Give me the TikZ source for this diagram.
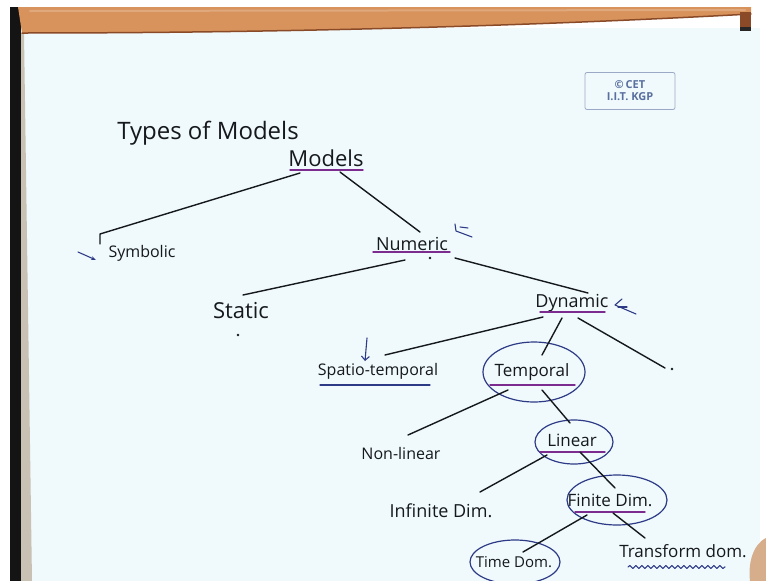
\documentclass[tikz,border=0pt]{standalone}
\usepackage{fontspec}
\setmainfont{Open Sans}
\usetikzlibrary{decorations.pathmorphing,arrows.meta}
\definecolor{board}{HTML}{F0FAFC}
\definecolor{wood}{HTML}{D8935C}
\definecolor{wooddark}{HTML}{8A4A28}
\definecolor{frame}{HTML}{C9C2B4}
\definecolor{ink}{HTML}{15181C}
\definecolor{mark}{HTML}{7B2C8E}
\definecolor{pen}{HTML}{2D3A86}
\definecolor{stamp}{HTML}{5A6FA0}
\definecolor{skin}{HTML}{D6AE8C}
\begin{document}
\begin{tikzpicture}[x=1pt,y=-1pt,line cap=round,line join=round,
  lbl/.style={inner sep=0pt,text=ink,font=\fontsize{#1}{#1}\selectfont},
  conn/.style={draw=ink,line width=1.4pt},
  uline/.style={draw=mark,line width=1.4pt},
  ring/.style={draw=pen,line width=1.2pt},
  note/.style={draw=pen,line width=1.1pt}]
\useasboundingbox (0,0) rectangle (766,581);

% board, frame and ledge
\fill[white] (0,0) rectangle (766,581);
\fill[board] (21,28) rectangle (760,581);
\fill[black!92] (10,7) rectangle (21,581);
\fill[frame] (21,33) -- (24,33) -- (32,581) -- (21,581) -- cycle;
\fill[wood] (18,7) -- (751,7) -- (751,14) .. controls (550,25) and (300,33) .. (22,33) -- cycle;
\draw[wooddark,line width=1.5pt] (22,33) .. controls (300,33) and (550,25) .. (751,14);
\draw[wood!80!white,line width=2pt] (30,11) -- (745,10);
\fill[wooddark] (740,12) rectangle (751,30);
\fill[black!85] (740,27) rectangle (751,31);
\fill[skin] (766,538) .. controls (752,545) and (748,565) .. (750,581) -- (766,581) -- cycle;

% stamp
\node[draw=stamp!60,rounded corners=2pt,line width=0.8pt,minimum width=90pt,minimum height=37pt,
      align=center,text=stamp,font=\fontsize{11}{12}\selectfont\bfseries] (stampbox) at (630,91)
      {\textcopyright\,CET\\I.I.T. KGP};

% labels
\node[lbl=24] (title) at (208,133) {Types of Models};
\node[lbl=22] (models) at (326,158) {Models};
\node[lbl=16] (symbolic) at (142,253) {Symbolic};
\node[lbl=18] (numeric) at (412,244) {Numeric};
\node[lbl=22] (static) at (241,311) {Static};
\node[lbl=18] (dynamic) at (572,303) {Dynamic};
\node[lbl=16] (spatio) at (378,371) {Spatio-temporal};
\node[lbl=17] (temporal) at (532,372) {Temporal};
\node[lbl=16] (nonlinear) at (401,453) {Non-linear};
\node[lbl=17] (linear) at (572,440) {Linear};
\node[lbl=18] (infinite) at (441,511) {Infinite Dim.};
\node[lbl=17] (finite) at (610,500) {Finite Dim.};
\node[lbl=15] (timedom) at (514,562) {Time Dom.};
\node[lbl=17] (transform) at (683,551) {Transform dom.};
\coordinate (dynright) at (665,368);

% circled classes
\draw[ring] ([shift={(2,0)}]temporal.center) ellipse [x radius=51,y radius=30];
\draw[ring] ([shift={(2,2)}]linear.center) ellipse [x radius=39,y radius=22];
\draw[ring] ([shift={(7,0)}]finite.center) ellipse [x radius=50,y radius=25];
\draw[ring] ([shift={(1,0)}]timedom.center) ellipse [x radius=45,y radius=22];

% underlines
\draw[uline] ([shift={(-36,12)}]models.center) -- ([shift={(37,12)}]models.center);
\draw[uline] ([shift={(-39,8)}]numeric.center) -- ([shift={(38,8)}]numeric.center);
\draw[uline] ([shift={(-32,9)}]dynamic.center) -- ([shift={(33,9)}]dynamic.center);
\draw[uline] ([shift={(-42,13)}]temporal.center) -- ([shift={(43,13)}]temporal.center);
\draw[uline] ([shift={(-32,12)}]linear.center) -- ([shift={(33,12)}]linear.center);
\draw[uline] ([shift={(-35,12)}]finite.center) -- ([shift={(35,12)}]finite.center);
\draw[note] ([shift={(-58,14)}]spatio.center) -- ([shift={(52,14)}]spatio.center);
\draw[note,decorate,decoration={snake,segment length=6pt,amplitude=1.5pt}]
  ([shift={(-55,16)}]transform.center) -- ([shift={(42,16)}]transform.center);

% tree branches
\draw[conn] ([shift={(-26,15)}]models.center) -- ([shift={(-42,-19)}]symbolic.center) -- ([shift={(-42,-9)}]symbolic.center);
\draw[conn] ([shift={(14,14)}]models.center) -- ([shift={(8,-12)}]numeric.center);
\draw[conn] ([shift={(-7,16)}]numeric.center) -- ([shift={(2,-16)}]static.center);
\draw[conn] ([shift={(43,14)}]numeric.center) -- ([shift={(16,-10)}]dynamic.center);
\draw[conn] ([shift={(-29,14)}]dynamic.center) -- ([shift={(7,-16)}]spatio.center);
\draw[conn] ([shift={(-10,15)}]dynamic.center) -- ([shift={(10,-17)}]temporal.center);
\draw[conn] ([shift={(6,15)}]dynamic.center) -- (dynright);
\draw[conn] ([shift={(-24,18)}]temporal.center) -- ([shift={(7,-18)}]nonlinear.center);
\draw[conn] ([shift={(10,18)}]temporal.center) -- ([shift={(-2,-17)}]linear.center);
\draw[conn] ([shift={(-25,15)}]linear.center) -- ([shift={(39,-19)}]infinite.center);
\draw[conn] ([shift={(8,12)}]linear.center) -- ([shift={(5,-12)}]finite.center);
\draw[conn] ([shift={(-23,15)}]finite.center) -- ([shift={(9,-10)}]timedom.center);
\draw[conn] ([shift={(3,13)}]finite.center) -- ([shift={(-38,-13)}]transform.center);

% stray dots
\fill[ink] (430,258) circle (1.3pt);
\fill[ink] (238,335) circle (1.3pt);
\fill[ink] (672,369) circle (1.3pt);

% pen marks
\draw[note,-{Stealth[length=5pt]}] (78,252) -- (96,260);
\draw[note,-{Straight Barb[length=4pt]}] (367,338) -- (365,361);
\draw[note] (455,224) -- (456,231) -- (472,237);
\draw[note] (460,227) -- (468,228);
\draw[note] (622,299) -- (615,305) -- (636,314);
\draw[note] (618,307) -- (627,307);
\end{tikzpicture}
\end{document}
